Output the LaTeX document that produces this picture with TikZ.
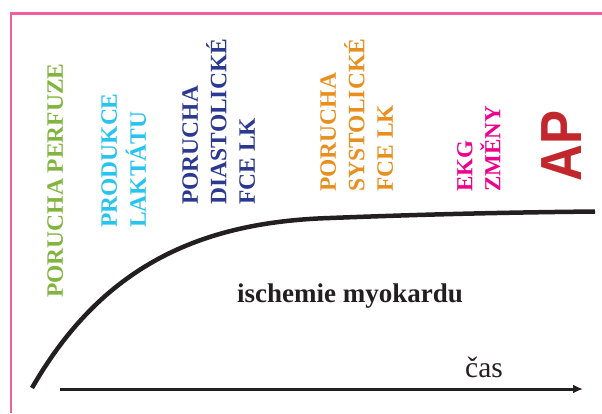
\documentclass[tikz,border=0pt]{standalone}
\usepackage{fontspec}
\setmainfont{Liberation Serif}
\newfontfamily\capsfont{Liberation Serif}[Kerning=Off]
\newfontfamily\apfont{Liberation Sans}
\usetikzlibrary{arrows.meta}
\definecolor{framepink}{HTML}{F0609E}
\definecolor{cgreen}{HTML}{82B440}
\definecolor{ccyan}{HTML}{27C4F0}
\definecolor{cblue}{HTML}{2B3990}
\definecolor{corange}{HTML}{E8901F}
\definecolor{cmagenta}{HTML}{EC008C}
\definecolor{cred}{HTML}{C1272D}
\definecolor{ink}{HTML}{231F20}
\tikzset{
  vlabel/.style={rotate=90, anchor=north west, inner sep=0pt, align=left,
    font=\capsfont\bfseries\fontsize{23.5}{28.5}\selectfont},
  hlabel/.style={anchor=base west, inner sep=0pt, text=ink},
}
\begin{document}
\begin{tikzpicture}[x=1pt, y=-1pt]
\useasboundingbox (0,0) rectangle (602,413);
% frame
\draw[framepink, line width=2.8pt, line join=miter] (602,13.5) -- (11,13.5) -- (11,413);
% vertical labels
\node[vlabel, text=cgreen] (perf) at (47,298) {PORUCHA PERFUZE};
\node[vlabel, text=ccyan, font=\capsfont\bfseries\fontsize{23.5}{29}\selectfont] (lakt) at (101,228) {PRODUKCE\\LAKTÁTU};
\node[vlabel, text=cblue] (diast) at (182,205) {PORUCHA\\DIASTOLICKÉ\\FCE LK};
\node[vlabel, text=corange] (syst) at (320,192) {PORUCHA\\SYSTOLICKÉ\\FCE LK};
\node[vlabel, text=cmagenta, font=\capsfont\bfseries\fontsize{23}{28}\selectfont] (ekg) at (457,192) {EKG\\ZMĚNY};
\node[rotate=90, anchor=north west, inner sep=0pt, text=cred,
      font=\apfont\bfseries\fontsize{58}{60}\selectfont, xscale=0.88] (ap) at (541,182) {AP};
% curve
\coordinate (c0) at (32,388);
\coordinate (c1) at (330,218);
\coordinate (c2) at (595,211.5);
\draw[ink, line width=4.5pt] (c0) .. controls (102,266) and (200,222) .. (c1)
  .. controls (420,214.5) and (500,212.5) .. (c2);
% labels
\node[hlabel, font=\bfseries\fontsize{27}{30}\selectfont] (isch) at (237,302) {ischemie myokardu};
\node[hlabel, font=\fontsize{29.5}{32}\selectfont] (cas) at (465,377) {čas};
% time axis
\coordinate (t0) at (60,389);
\coordinate (t1) at (583,389);
\draw[ink, line width=3pt, -{Latex[length=10pt,width=9pt]}] (t0) -- (t1);
\end{tikzpicture}
\end{document}
